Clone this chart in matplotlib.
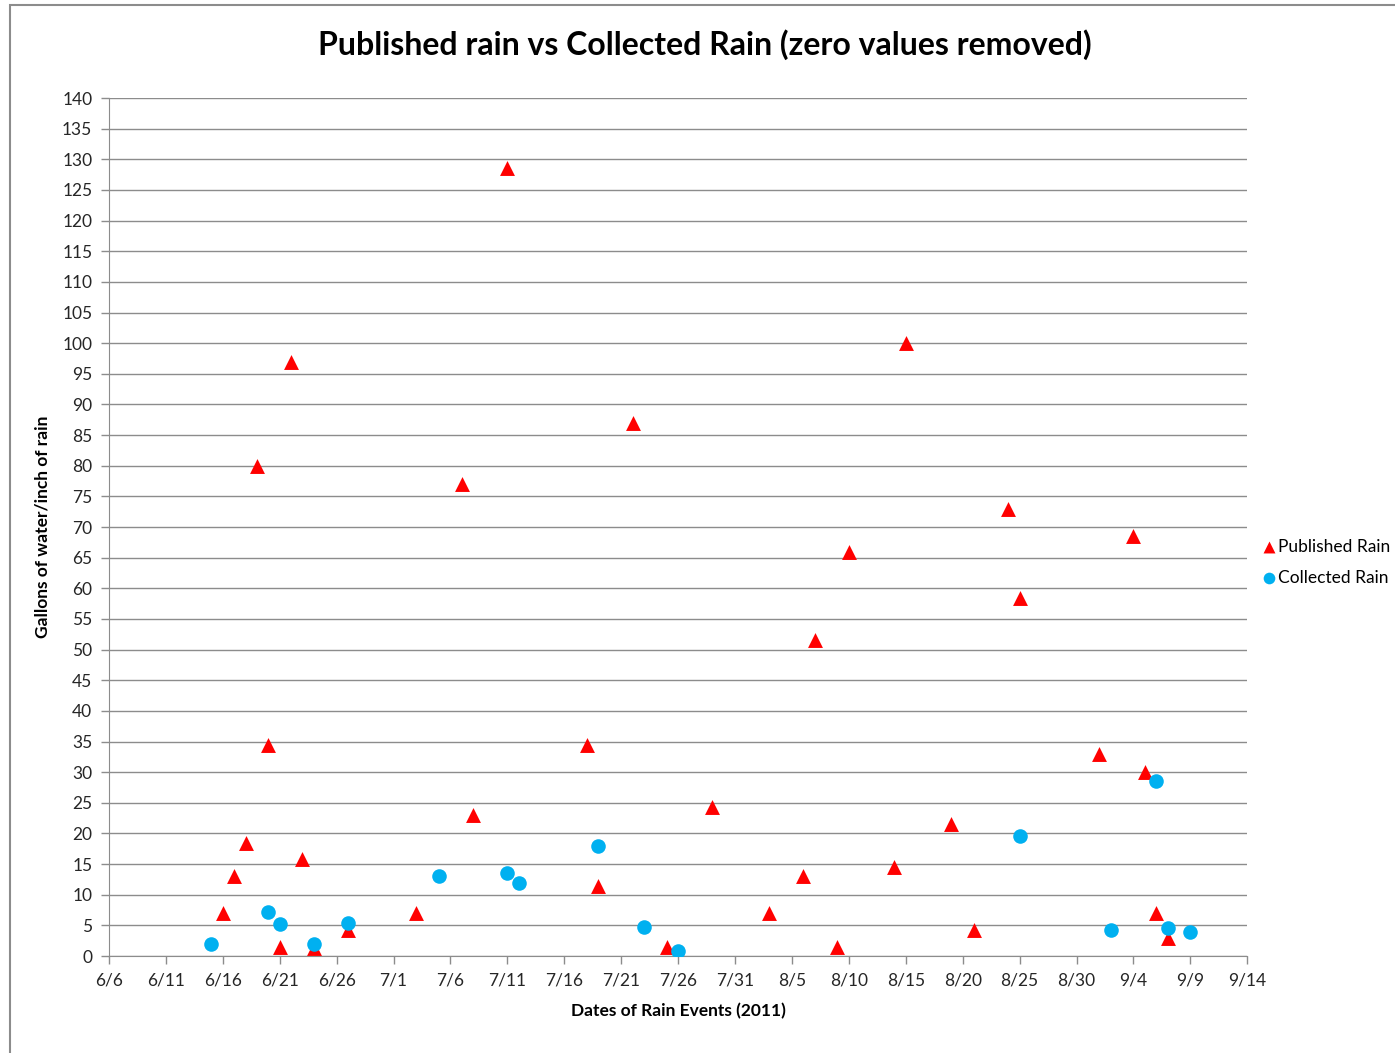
import datetime as dt
import matplotlib
matplotlib.use("Agg")
import matplotlib.pyplot as plt
from matplotlib.patches import Rectangle

plt.rcParams['font.family'] = ['Lato', 'DejaVu Sans']

# Published rain events (month/day, gallons per inch)
pub_dates = ["6/16", "6/17", "6/18", "6/19", "6/20", "6/21", "6/22", "6/23", "6/24",
             "6/27", "7/3", "7/7", "7/8", "7/11", "7/18", "7/19", "7/22", "7/25",
             "7/29", "8/3", "8/6", "8/7", "8/9", "8/10", "8/14", "8/15", "8/19",
             "8/21", "8/24", "8/25", "9/1", "9/4", "9/5", "9/6", "9/7"]
pub_vals = [7, 13, 18.5, 80, 34.5, 1.5, 97, 15.8, 1.3,
            4.2, 7, 77, 23, 128.6, 34.5, 11.5, 87, 1.5,
            24.3, 7, 13, 51.5, 1.5, 66, 14.5, 100, 21.5,
            4.3, 73, 58.5, 33, 68.6, 30, 7, 3]

# Collected rain events
col_dates = ["6/15", "6/20", "6/21", "6/24", "6/27", "7/5", "7/11", "7/12", "7/19",
             "7/23", "7/26", "8/25", "9/2", "9/6", "9/7", "9/9"]
col_vals = [2, 7.2, 5.2, 2, 5.4, 13, 13.5, 11.9, 18,
            4.8, 0.8, 19.6, 4.2, 28.6, 4.5, 3.9]


def to_date(s):
    m, d = s.split("/")
    return dt.date(2011, int(m), int(d))


pub_x = [to_date(s) for s in pub_dates]
col_x = [to_date(s) for s in col_dates]

fig = plt.figure(figsize=(13.95, 10.53), dpi=100)
ax = fig.add_axes([0.0781, 0.0921, 0.8160, 0.8148])

grid_color = "#8c8c8c"
ax.scatter(pub_x, pub_vals, marker="^", s=115, color="#ff0000", zorder=3,
           label="Published Rain", linewidths=0)
ax.scatter(col_x, col_vals, marker="o", s=110, color="#00b0f0", zorder=4,
           label="Collected Rain", linewidths=0)

start = dt.date(2011, 6, 6)
end = dt.date(2011, 9, 14)
ax.set_xlim(start, end)
ax.set_ylim(0, 140)
ax.set_yticks(range(0, 141, 5))
xticks = [start + dt.timedelta(days=5 * i) for i in range(21)]
ax.set_xticks(xticks)
ax.set_xticklabels([f"{d.month}/{d.day}" for d in xticks])

ax.yaxis.grid(True, color=grid_color, linewidth=1)
ax.set_axisbelow(True)
for side in ["top", "right"]:
    ax.spines[side].set_visible(False)
for side in ["left", "bottom"]:
    ax.spines[side].set_color(grid_color)
ax.tick_params(axis="both", colors=grid_color, labelcolor="#262626",
               labelsize=12.5, length=6, width=1, pad=6)

ax.set_xlabel("Dates of Rain Events (2011)", fontsize=12.5, fontweight="bold",
              labelpad=10)
ax.set_ylabel("Gallons of water/inch of rain", fontsize=12.5, fontweight="bold",
              labelpad=8)
fig.suptitle("Published rain vs Collected Rain (zero values removed)",
             x=0.505, y=0.972, fontsize=23, fontweight="bold")

ax.legend(loc="center left", bbox_to_anchor=(1.012, 0.459), frameon=False,
          fontsize=12.5, handletextpad=0.1, handlelength=0.9, labelspacing=0.85,
          markerscale=0.8, borderpad=0, borderaxespad=0)

# chart frame
fig.patches.append(Rectangle((0.007, -0.01), 1.1, 1.005, transform=fig.transFigure,
                             fill=False, edgecolor="#8c8c8c", linewidth=1.5))

fig.savefig("out.png", dpi=100)
